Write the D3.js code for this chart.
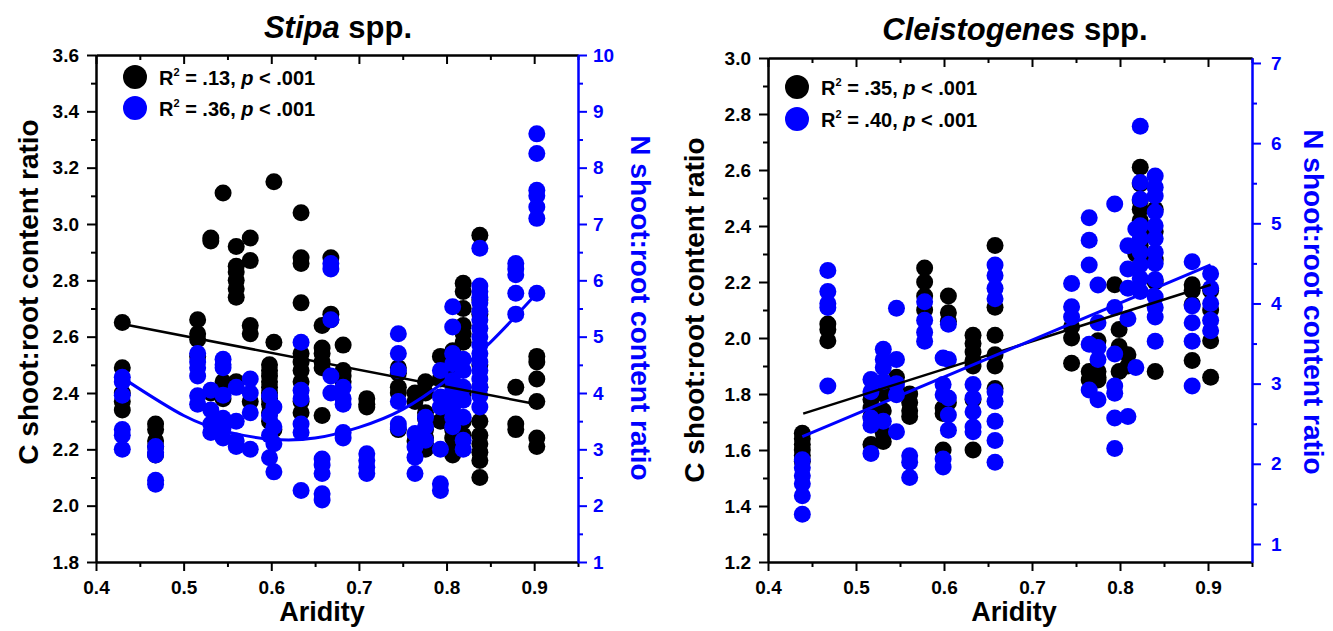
<!DOCTYPE html>
<html>
<head>
<meta charset="utf-8">
<script src="https://cdn.jsdelivr.net/npm/d3@7"></script>
<style>
  body { margin: 0; background: #fff; }
  svg text { font-family: "Liberation Sans", Arial, sans-serif; font-weight: bold; }
</style>
</head>
<body>
<svg id="chart" width="1333" height="631"></svg>
<script>
const BLUE = "#0000ff";

// ---- Stipa spp. ----
const stipaAridity = [0.430, 0.468, 0.516, 0.531, 0.545, 0.560, 0.576, 0.598, 0.603, 0.634, 0.658, 0.668,
  0.682, 0.709, 0.745, 0.764, 0.776, 0.793, 0.807, 0.819, 0.838, 0.879, 0.903];
const stipaC = [
  [2.65, 2.49, 2.40, 2.37, 2.34],
  [2.29, 2.27, 2.23, 2.21, 2.18],
  [2.66, 2.61, 2.59, 2.53],
  [2.95, 2.94, 2.40],
  [3.11, 2.44, 2.38],
  [2.92, 2.85, 2.83, 2.80, 2.77, 2.74, 2.44],
  [2.95, 2.87, 2.64, 2.61, 2.37],
  [2.50, 2.48, 2.46, 2.44, 2.42, 2.40, 2.38, 2.36, 2.33, 2.30],
  [3.15, 2.58, 2.27],
  [3.04, 2.88, 2.86, 2.72, 2.54, 2.51, 2.48, 2.44, 2.37, 2.33],
  [2.64, 2.56, 2.54, 2.51, 2.49, 2.32],
  [2.88, 2.68, 2.66],
  [2.57, 2.48, 2.46, 2.44],
  [2.38, 2.36, 2.35],
  [2.49, 2.47, 2.42, 2.40, 2.27],
  [2.40, 2.37, 2.23],
  [2.44, 2.40, 2.33, 2.31, 2.27, 2.24, 2.22, 2.20],
  [2.53, 2.45, 2.30],
  [2.55, 2.51, 2.47, 2.38, 2.32, 2.27, 2.24, 2.20, 2.18],
  [2.79, 2.76, 2.70, 2.64, 2.61, 2.58, 2.40, 2.30, 2.25],
  [2.96, 2.73, 2.68, 2.50, 2.42, 2.30, 2.25, 2.22, 2.19, 2.16, 2.10],
  [2.42, 2.29, 2.27],
  [2.53, 2.51, 2.45, 2.37, 2.24, 2.21]
];
const stipaN = [
  [4.28, 4.20, 3.96, 3.35, 3.25, 3.00],
  [3.05, 2.95, 2.90, 2.45, 2.38],
  [4.70, 4.55, 4.45, 4.30, 3.95, 3.80],
  [4.05, 3.70, 3.45, 3.30],
  [4.60, 4.50, 4.45, 3.96, 3.55, 3.38, 3.20],
  [4.10, 3.50, 3.15, 3.05],
  [4.25, 4.00, 3.65, 3.00],
  [3.95, 3.60, 3.25, 2.85],
  [3.75, 3.40, 3.10, 2.60],
  [4.90, 4.05, 3.90, 3.45, 3.30, 2.27],
  [2.83, 2.72, 2.57, 2.21, 2.10],
  [6.30, 6.20, 5.30, 4.30, 4.00],
  [4.10, 3.90, 3.80, 3.30, 3.20],
  [2.92, 2.80, 2.68, 2.57],
  [5.05, 4.70, 4.40, 3.85, 3.45, 3.38],
  [3.28, 3.04, 2.86, 2.57],
  [3.57, 3.40, 3.16],
  [4.40, 3.93, 3.75, 3.00, 2.39, 2.27],
  [5.53, 5.17, 4.70, 4.52, 4.22, 4.05, 3.87, 3.75, 3.57, 3.40],
  [4.60, 4.40, 4.10, 3.87, 3.57, 3.16, 3.00],
  [6.57, 5.90, 5.80, 5.70, 5.60, 5.45, 5.30, 5.15, 5.00, 4.85, 4.70, 4.55, 4.40, 4.25, 4.10, 3.95, 3.75],
  [6.30, 6.20, 6.10, 5.77, 5.40],
  [8.60, 8.25, 7.60, 7.50, 7.30, 7.10, 5.77]
];
// fitted lines
const stipaCFit = [[0.430, 2.645], [0.903, 2.36]];
const stipaNFit = [[0.435, 4.22], [0.50, 3.60], [0.55, 3.31], [0.60, 3.18], [0.65, 3.20], [0.70, 3.39],
  [0.75, 3.71], [0.80, 4.23], [0.85, 4.90], [0.903, 5.77]];
const stipaLegend = [".13", ".36"];

// ---- Cleistogenes spp. ----
const cleiAridity = [0.439, 0.468, 0.517, 0.531, 0.546, 0.561, 0.578, 0.599, 0.605, 0.633, 0.658, 0.745,
  0.765, 0.775, 0.794, 0.799, 0.809, 0.818, 0.823, 0.840, 0.882, 0.903];
const cleiC = [
  [1.66, 1.64, 1.62, 1.60, 1.58, 1.56],
  [2.05, 2.03, 1.99],
  [1.78, 1.75, 1.72, 1.62],
  [1.80, 1.74, 1.66, 1.63],
  [1.86, 1.82, 1.80],
  [1.80, 1.77, 1.74, 1.72],
  [2.25, 2.20, 2.15, 2.10],
  [1.75, 1.73, 1.60],
  [2.15, 2.09, 2.06, 1.77],
  [2.01, 1.98, 1.95, 1.92, 1.90, 1.78, 1.60],
  [2.33, 2.11, 2.01, 1.94, 1.90, 1.82],
  [2.04, 2.00, 1.91],
  [1.88, 1.85],
  [1.99, 1.88, 1.86, 1.85],
  [2.19],
  [2.03, 1.97, 1.88],
  [1.94, 1.90],
  [2.30],
  [2.61, 2.55, 2.49, 2.46, 2.42, 2.38, 2.33, 2.29],
  [2.46, 2.38, 2.28, 2.20, 1.88],
  [2.19, 2.17, 2.12, 1.92],
  [2.17, 2.10, 1.99, 1.86]
];
const cleiN = [
  [2.05, 1.95, 1.85, 1.75, 1.60, 1.37],
  [4.41, 4.15, 4.00, 3.95, 2.97],
  [3.05, 2.90, 2.57, 2.48, 2.13],
  [3.43, 3.30, 3.20, 3.03, 2.53],
  [3.94, 3.30, 3.00, 2.86, 2.40],
  [2.10, 2.02, 1.83],
  [4.02, 3.79, 3.64, 3.53],
  [3.32, 2.99, 2.86, 2.06, 1.96],
  [3.74, 3.30, 2.82, 2.61, 2.42],
  [2.99, 2.82, 2.65, 2.46, 2.40],
  [4.48, 4.35, 4.19, 4.06, 2.90, 2.78, 2.53, 2.29, 2.02],
  [4.25, 3.96, 3.83],
  [5.07, 4.79, 4.48, 3.49, 2.92],
  [4.23, 3.76, 3.45, 3.30, 2.80],
  [5.24, 3.95, 3.37, 2.97, 2.88, 2.57, 2.19],
  [],
  [4.72, 4.43, 4.19, 3.81, 2.59],
  [4.93, 3.20],
  [6.21, 5.51, 5.30, 4.97, 4.81, 4.64, 4.48, 4.31, 4.15],
  [5.59, 5.45, 5.34, 5.14, 4.97, 4.81, 4.64, 4.50, 4.30, 4.08, 3.95, 3.83, 3.53],
  [4.52, 3.97, 3.76, 3.53, 2.97],
  [4.37, 4.19, 4.00, 3.79, 3.66]
];
const cleiCFit = [[0.440, 1.73], [0.903, 2.19]];
const cleiNFit = [[0.439, 2.34], [0.903, 4.48]];
const cleiLegend = [".35", ".40"];

// axis ticks
const xMajor = [0.4, 0.5, 0.6, 0.7, 0.8, 0.9];
const xMinor = d3.range(0.45, 0.951, 0.1);

const svg = d3.select("#chart");

function drawPanel(p) {
  const g = svg.append("g");
  const x = d3.scaleLinear().domain([0.4, 0.95]).range([p.left, p.right]);
  const yC = d3.scaleLinear().domain(p.cDomain).range([p.bottom, p.top]);
  const yN = d3.scaleLinear().domain(p.nDomain).range([p.bottom, p.top]);

  const pts = (cols, vals) => cols.flatMap((a, i) => vals[i].map(v => [a, v]));

  // points
  g.append("g").selectAll("circle")
    .data(pts(p.aridity, p.c)).join("circle")
    .attr("cx", d => x(d[0])).attr("cy", d => yC(d[1]))
    .attr("r", 8.5).attr("fill", "#000");

  g.append("g").selectAll("circle")
    .data(pts(p.aridity, p.n)).join("circle")
    .attr("cx", d => x(d[0])).attr("cy", d => yN(d[1]))
    .attr("r", 8.5).attr("fill", BLUE);

  // fits
  g.append("path").datum(p.cFit)
    .attr("fill", "none").attr("stroke", "#000").attr("stroke-width", 2.5)
    .attr("d", d3.line().x(d => x(d[0])).y(d => yC(d[1])));
  g.append("path").datum(p.nFit)
    .attr("fill", "none").attr("stroke", BLUE).attr("stroke-width", 3)
    .attr("d", d3.line().x(d => x(d[0])).y(d => yN(d[1])).curve(d3.curveNatural));

  // axes
  const styleAxis = (sel, color) => {
    sel.selectAll("path,line").attr("stroke", color).attr("stroke-width", 2);
    sel.selectAll("text").attr("fill", color).style("font-size", "19px")
      .style("font-family", "'Liberation Sans', Arial, sans-serif").style("font-weight", "bold");
  };

  // bottom
  g.append("g").attr("transform", `translate(0,${p.bottom})`)
    .call(d3.axisBottom(x).tickValues(xMinor).tickSize(5).tickFormat("").tickSizeOuter(0))
    .call(s => styleAxis(s, "#000"));
  g.append("g").attr("transform", `translate(0,${p.bottom})`)
    .call(d3.axisBottom(x).tickValues(xMajor).tickSize(9).tickPadding(10)
      .tickFormat(d3.format(".1f")).tickSizeOuter(0))
    .call(s => styleAxis(s, "#000"));
  // top (ticks inward)
  g.append("g").attr("transform", `translate(0,${p.top})`)
    .call(d3.axisBottom(x).tickValues(xMinor).tickSize(5).tickFormat("").tickSizeOuter(0))
    .call(s => styleAxis(s, "#000"));
  g.append("g").attr("transform", `translate(0,${p.top})`)
    .call(d3.axisBottom(x).tickValues(xMajor).tickSize(9).tickFormat("").tickSizeOuter(0))
    .call(s => styleAxis(s, "#000"));

  // left (C)
  g.append("g").attr("transform", `translate(${p.left},0)`)
    .call(d3.axisLeft(yC).tickValues(p.cMinor).tickSize(5).tickFormat("").tickSizeOuter(0))
    .call(s => styleAxis(s, "#000"));
  g.append("g").attr("transform", `translate(${p.left},0)`)
    .call(d3.axisLeft(yC).tickValues(p.cMajor).tickSize(9).tickPadding(8)
      .tickFormat(d3.format(".1f")).tickSizeOuter(0))
    .call(s => styleAxis(s, "#000"));

  // right (N)
  g.append("g").attr("transform", `translate(${p.right},0)`)
    .call(d3.axisRight(yN).tickValues(p.nMinor).tickSize(5).tickFormat("").tickSizeOuter(0))
    .call(s => styleAxis(s, BLUE));
  g.append("g").attr("transform", `translate(${p.right},0)`)
    .call(d3.axisRight(yN).tickValues(p.nMajor).tickSize(9).tickPadding(p.nPad)
      .tickFormat(d3.format("d")).tickSizeOuter(0))
    .call(s => styleAxis(s, BLUE));

  // titles
  const t = g.append("text").attr("x", p.titleX).attr("y", p.titleY)
    .attr("text-anchor", "middle").style("font-size", "31px");
  t.append("tspan").style("font-style", "italic").text(p.genus);
  t.append("tspan").text(" spp.");

  g.append("text").attr("x", p.aridX).attr("y", 621)
    .attr("text-anchor", "middle").style("font-size", "27px").text("Aridity");

  g.append("text")
    .attr("transform", `translate(${p.cLabelX},${p.cLabelY}) rotate(-90)`)
    .attr("text-anchor", "middle").attr("dominant-baseline", "central")
    .style("font-size", "28px").text("C shoot:root content ratio");

  g.append("text")
    .attr("transform", `translate(${p.nLabelX},${p.nLabelY}) rotate(90)`)
    .attr("text-anchor", "middle").attr("dominant-baseline", "central")
    .attr("fill", BLUE)
    .style("font-size", "28px").text("N shoot:root content ratio");

  // legend
  [["#000", p.legend[0]], [BLUE, p.legend[1]]].forEach(([col, r2], i) => {
    const cy = p.legY + i * p.legGap;
    g.append("circle").attr("cx", p.legX).attr("cy", cy).attr("r", 12).attr("fill", col);
    const lt = g.append("text").attr("x", p.legX + 24).attr("y", cy + 8).style("font-size", "20px");
    lt.append("tspan").text("R");
    lt.append("tspan").attr("dy", -9).style("font-size", "11px").text("2");
    lt.append("tspan").attr("dy", 9).text(` = ${r2}, `);
    lt.append("tspan").style("font-style", "italic").text("p");
    lt.append("tspan").text(" < .001");
  });
}

drawPanel({
  genus: "Stipa",
  left: 96, right: 578, top: 55, bottom: 562,
  cDomain: [1.8, 3.6], nDomain: [1, 10],
  cMajor: d3.range(1.8, 3.61, 0.2), cMinor: d3.range(1.9, 3.6, 0.2),
  nMajor: d3.range(1, 11, 1), nMinor: d3.range(1.5, 10, 1), nPad: 6,
  aridity: stipaAridity, c: stipaC, n: stipaN,
  cFit: stipaCFit, nFit: stipaNFit, legend: stipaLegend,
  titleX: 338, titleY: 38, aridX: 322,
  cLabelX: 28, cLabelY: 292, nLabelX: 640, nLabelY: 308,
  legX: 135, legY: 77, legGap: 31
});

drawPanel({
  genus: "Cleistogenes",
  left: 768, right: 1252, top: 58, bottom: 562,
  cDomain: [1.2, 3.0], nDomain: [0.775, 7.062],
  cMajor: d3.range(1.2, 3.01, 0.2), cMinor: d3.range(1.3, 3.0, 0.2),
  nMajor: d3.range(1, 8, 1), nMinor: d3.range(1.5, 7, 1), nPad: 10,
  aridity: cleiAridity, c: cleiC, n: cleiN,
  cFit: cleiCFit, nFit: cleiNFit, legend: cleiLegend,
  titleX: 1015, titleY: 40, aridX: 1014,
  cLabelX: 694, cLabelY: 310, nLabelX: 1313, nLabelY: 302,
  legX: 797, legY: 87, legGap: 32
});
</script>
</body>
</html>
